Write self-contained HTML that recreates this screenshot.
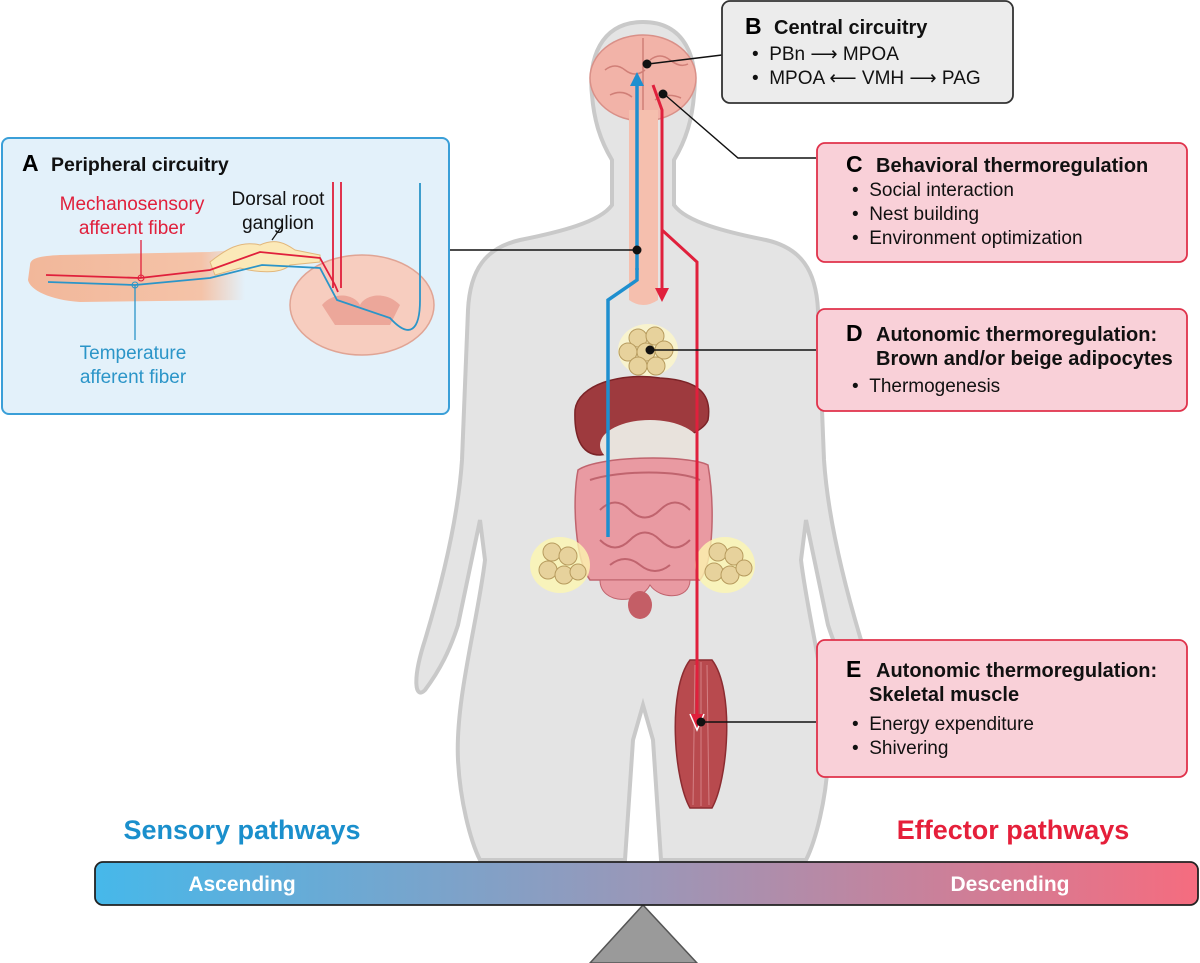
<!DOCTYPE html>
<html><head><meta charset="utf-8"><style>
html,body{margin:0;padding:0;background:#fff}
svg{display:block}
text{font-family:"Liberation Sans",Arial,sans-serif}
.t{font-weight:bold;font-size:20px;fill:#111}
.b{font-size:19px;fill:#111}
</style></head><body>
<svg width="1200" height="963" viewBox="0 0 1200 963">
<defs>
<linearGradient id="bar" x1="0" x2="1"><stop offset="0" stop-color="#46b8ea"/><stop offset="0.5" stop-color="#9a97b8"/><stop offset="1" stop-color="#f56c7f"/></linearGradient>
<linearGradient id="fing" x1="0" x2="1"><stop offset="0" stop-color="#f2b79a"/><stop offset="0.8" stop-color="#f4c3a8"/><stop offset="1" stop-color="#f4c3a8" stop-opacity="0"/></linearGradient>
</defs>
<!-- body silhouette -->
<path d="M643,22 C600,22 588,60 592,95 C594,120 600,140 612,160 L612,205 C600,222 560,232 520,240 C485,248 470,270 468,310 L462,460 C458,520 440,590 425,640 C412,680 415,700 425,690 C440,670 450,650 458,625 L480,520 L485,560 C478,620 455,700 458,760 C460,800 470,840 480,860 L625,860 L633,740 L643,705 L653,740 L661,860 L806,860 C816,840 826,800 828,760 C831,700 808,620 801,560 L806,520 L828,625 C836,650 846,670 861,690 C871,700 874,680 861,640 C846,590 828,520 824,460 L818,310 C816,270 801,248 766,240 C726,232 686,222 674,205 L674,160 C686,140 692,120 694,95 C698,60 686,22 643,22Z" fill="#e4e4e4" stroke="#c9c9c9" stroke-width="4"/>
<!-- brain -->
<ellipse cx="643" cy="78" rx="53" ry="43" fill="#f2b3a8" stroke="#d99088" stroke-width="1.5"/>
<path d="M605,70 q10,-8 20,0 t20,0 M650,60 q10,-8 20,0 t18,4 M610,95 q12,-6 22,2 M655,100 q12,-8 26,-2 M643,38 L643,118" fill="none" stroke="#d07f77" stroke-width="1.5"/>
<!-- spinal cord -->
<path d="M629,110 L629,300 Q643,310 658,300 L658,110Z" fill="#f5bfae"/>
<!-- organs -->
<ellipse cx="648" cy="350" rx="30" ry="26" fill="#fdf6c8" opacity="0.8"/>
<g fill="#e7d29c" stroke="#b79b5e" stroke-width="1">
<circle cx="638" cy="338" r="9"/><circle cx="655" cy="336" r="9"/><circle cx="628" cy="352" r="9"/><circle cx="646" cy="352" r="9"/><circle cx="664" cy="350" r="9"/><circle cx="638" cy="366" r="9"/><circle cx="656" cy="366" r="9"/></g>
<path d="M575,410 C578,385 620,372 660,378 C700,380 712,395 708,420 C700,440 640,450 600,455 C580,455 574,435 575,410Z" fill="#9e3a3e" stroke="#7b2327" stroke-width="1.5"/>
<ellipse cx="650" cy="445" rx="50" ry="25" fill="#e8e2dc"/>
<path d="M578,470 C572,500 575,560 590,580 L700,580 C715,560 714,500 708,465 C690,455 600,455 578,470Z" fill="#e99aa2" stroke="#c0646e" stroke-width="1.5"/>
<path d="M590,480 C620,470 680,470 700,480 M600,510 q15,-15 30,0 t30,0 t30,0 M600,540 q15,15 30,0 t30,0 t30,0 M610,565 q15,-12 30,0 t30,0" fill="none" stroke="#c0646e" stroke-width="2"/>
<path d="M600,580 C600,605 640,605 650,585 C660,600 690,600 690,580Z" fill="#e99aa2" stroke="#c0646e"/>
<ellipse cx="640" cy="605" rx="12" ry="14" fill="#c45e66"/>
<ellipse cx="560" cy="565" rx="30" ry="28" fill="#fdf6b0" opacity="0.8"/>
<ellipse cx="725" cy="565" rx="30" ry="28" fill="#fdf6b0" opacity="0.8"/>
<g fill="#e7d29c" stroke="#b79b5e" stroke-width="1">
<circle cx="552" cy="552" r="9"/><circle cx="568" cy="556" r="9"/><circle cx="548" cy="570" r="9"/><circle cx="564" cy="575" r="9"/><circle cx="578" cy="572" r="8"/>
<circle cx="718" cy="552" r="9"/><circle cx="734" cy="556" r="9"/><circle cx="714" cy="572" r="9"/><circle cx="730" cy="575" r="9"/><circle cx="744" cy="568" r="8"/></g>
<!-- muscle -->
<path d="M690,660 L712,660 C735,690 728,780 712,808 L690,808 C674,780 667,690 690,660Z" fill="#b84a4e" stroke="#8c2c31" stroke-width="1.5"/>
<path d="M695,665 L693,805 M701,662 L701,806 M707,665 L709,805" stroke="#d48084" stroke-width="1"/>
<!-- pathways -->
<path d="M637,270 L637,78" stroke="#1e8fcf" stroke-width="3.5" fill="none"/>
<path d="M630,86 L637,72 L644,86Z" fill="#1e8fcf"/>
<path d="M637,268 L637,280 L608,300 L608,537" stroke="#1e8fcf" stroke-width="3.5" fill="none"/>
<path d="M653,85 L662,110 L662,292" stroke="#e0203c" stroke-width="3" fill="none"/>
<path d="M655,288 L662,302 L669,288Z" fill="#e0203c"/>
<path d="M662,230 L697,262 L697,720" stroke="#e0203c" stroke-width="3" fill="none"/>
<path d="M690,714 L697,730 L704,714" stroke="#fff" stroke-width="1.5" fill="#e0203c"/>
<!-- connectors -->
<g stroke="#111" stroke-width="1.4" fill="none">
<path d="M449,250 L637,250"/><path d="M722,55 L648,64"/><path d="M816,158 L738,158 L664,94"/><path d="M650,350 L816,350"/><path d="M701,722 L816,722"/></g>
<g fill="#111"><circle cx="637" cy="250" r="4.5"/><circle cx="647" cy="64" r="4.5"/><circle cx="663" cy="94" r="4.5"/><circle cx="650" cy="350" r="4.5"/><circle cx="701" cy="722" r="4.5"/></g>
<!-- Box A -->
<rect x="2" y="138" width="447" height="276" rx="7" fill="#e3f1fa" stroke="#3a9fd8" stroke-width="2"/>
<text x="22" y="171" style="font-weight:bold;font-size:23px">A</text><text x="51" y="171" class="t" style="font-size:19.5px">Peripheral circuitry</text>
<path d="M30,265 C30,258 40,256 60,255 L210,252 C230,250 240,250 245,250 L245,300 L80,302 C50,300 30,290 28,280Z" fill="url(#fing)"/>
<path d="M210,262 C225,250 240,240 260,245 C275,238 285,243 295,250 L320,255 L320,262 L290,265 C280,275 255,272 240,268 L215,275Z" fill="#fbe9b8" stroke="#e2b77c" stroke-width="1"/>
<ellipse cx="362" cy="305" rx="72" ry="50" fill="#f7cdbf" stroke="#e0a494" stroke-width="1.5"/>
<path d="M322,305 C335,290 355,295 360,305 C365,295 385,290 400,305 L390,325 L335,325Z" fill="#eca79a"/>
<path d="M46,275 L140,278 L210,270 L260,252 L320,258 L335,285 L338,292" stroke="#e0203c" stroke-width="1.8" fill="none"/>
<path d="M48,282 L135,285 L210,278 L262,265 L320,268 L337,300 L390,318 C410,340 420,330 420,300 L420,183" stroke="#2b95c8" stroke-width="1.8" fill="none"/>
<path d="M333,182 L333,288 M341,182 L341,288" stroke="#e0203c" stroke-width="1.8"/>
<path d="M141,240 L141,278" stroke="#e0203c" stroke-width="1.3"/><circle cx="141" cy="278" r="3" fill="none" stroke="#e0203c"/>
<path d="M135,285 L135,340" stroke="#2b95c8" stroke-width="1.3"/><circle cx="135" cy="285" r="3" fill="none" stroke="#2b95c8"/>
<path d="M272,240 L282,226" stroke="#111" stroke-width="1.2"/>
<text x="132" y="210" text-anchor="middle" style="font-size:19px;fill:#e0203c">Mechanosensory</text>
<text x="132" y="234" text-anchor="middle" style="font-size:19px;fill:#e0203c">afferent fiber</text>
<text x="278" y="205" text-anchor="middle" style="font-size:19px;fill:#111">Dorsal root</text>
<text x="278" y="229" text-anchor="middle" style="font-size:19px;fill:#111">ganglion</text>
<text x="133" y="359" text-anchor="middle" style="font-size:19px;fill:#2b95c8">Temperature</text>
<text x="133" y="383" text-anchor="middle" style="font-size:19px;fill:#2b95c8">afferent fiber</text>
<!-- Box B -->
<rect x="722" y="1" width="291" height="102" rx="8" fill="#ececec" stroke="#333" stroke-width="1.8"/>
<text x="745" y="34" style="font-weight:bold;font-size:23px">B</text><text x="774" y="34" class="t">Central circuitry</text>
<text x="752" y="60" class="b">•&#160;&#160;PBn ⟶ MPOA</text>
<text x="752" y="84" class="b">•&#160;&#160;MPOA ⟵ VMH ⟶ PAG</text>
<!-- Box C -->
<rect x="817" y="143" width="370" height="119" rx="8" fill="#f9d0d8" stroke="#e0324b" stroke-width="1.8"/>
<text x="846" y="172" style="font-weight:bold;font-size:23px">C</text><text x="876" y="172" class="t">Behavioral thermoregulation</text>
<text x="852" y="196" class="b">•&#160;&#160;Social interaction</text>
<text x="852" y="220" class="b">•&#160;&#160;Nest building</text>
<text x="852" y="244" class="b">•&#160;&#160;Environment optimization</text>
<!-- Box D -->
<rect x="817" y="309" width="370" height="102" rx="8" fill="#f9d0d8" stroke="#e0324b" stroke-width="1.8"/>
<text x="846" y="341" style="font-weight:bold;font-size:23px">D</text><text x="876" y="341" class="t">Autonomic thermoregulation:</text>
<text x="876" y="365" class="t">Brown and/or beige adipocytes</text>
<text x="852" y="392" class="b">•&#160;&#160;Thermogenesis</text>
<!-- Box E -->
<rect x="817" y="640" width="370" height="137" rx="8" fill="#f9d0d8" stroke="#e0324b" stroke-width="1.8"/>
<text x="846" y="677" style="font-weight:bold;font-size:23px">E</text><text x="876" y="677" class="t">Autonomic thermoregulation:</text>
<text x="869" y="701" class="t">Skeletal muscle</text>
<text x="852" y="730" class="b">•&#160;&#160;Energy expenditure</text>
<text x="852" y="754" class="b">•&#160;&#160;Shivering</text>
<!-- bottom -->
<text x="242" y="839" text-anchor="middle" style="font-weight:bold;font-size:27px;fill:#1a8fcc">Sensory pathways</text>
<text x="1013" y="839" text-anchor="middle" style="font-weight:bold;font-size:27px;fill:#e51f3a">Effector pathways</text>
<path d="M643,905 L590,963 L697,963Z" fill="#9a9a9a" stroke="#555" stroke-width="1.5"/>
<rect x="95" y="862" width="1103" height="43" rx="8" fill="url(#bar)" stroke="#222" stroke-width="1.8"/>
<text x="242" y="891" text-anchor="middle" style="font-weight:bold;font-size:21px;fill:#fff">Ascending</text>
<text x="1010" y="891" text-anchor="middle" style="font-weight:bold;font-size:21px;fill:#fff">Descending</text>
</svg>
</body></html>
